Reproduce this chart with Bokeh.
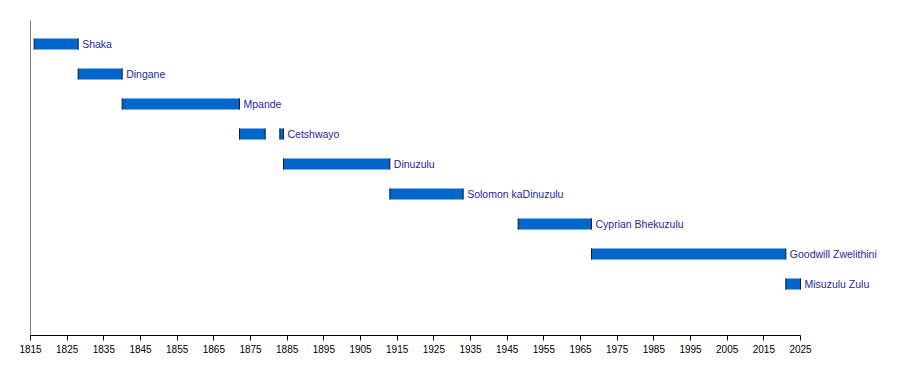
from bokeh.plotting import figure
from bokeh.models import Range1d, FixedTicker, Span, ColumnDataSource, LabelSet
from bokeh.core.properties import value
from bokeh.embed import file_html
from bokeh.resources import INLINE

# --- data ---
names = ["Shaka", "Dingane", "Mpande", "Cetshwayo", "Dinuzulu",
         "Solomon kaDinuzulu", "Cyprian Bhekuzulu", "Goodwill Zwelithini", "Misuzulu Zulu"]
period_king = [0, 1, 2, 3, 3, 4, 5, 6, 7, 8]
period_start = [1816, 1828, 1840, 1872, 1883, 1884, 1913, 1948, 1968, 2021]
period_end = [1828, 1840, 1872, 1879, 1884, 1913, 1933, 1968, 2021, 2025]
tick_years = list(range(1815, 2026, 10))

BAR_H = 0.37
x_min, x_max = 1815, 2025

# label position: end of last period of each king
label_x = [max(e for k, e in zip(period_king, period_end) if k == i) for i in range(len(names))]
label_y = list(range(len(names)))

px_per_year = 770 / (x_max - x_min)
frame_w = 860
p = figure(frame_width=frame_w, frame_height=315,
           x_range=Range1d(x_min, x_min + frame_w / px_per_year),
           y_range=Range1d((315 - 23.5) / 30, -23.5 / 30),
           output_backend="svg", toolbar_location=None,
           min_border_left=30, min_border_top=20, min_border_right=2, min_border_bottom=5)

p.outline_line_color = None
p.xgrid.visible = False
p.ygrid.visible = False
p.yaxis.visible = False
p.background_fill_color = "white"
p.border_fill_color = "white"

bars = ColumnDataSource(dict(left=period_start, right=period_end, y=period_king,
                             y0=[k - BAR_H / 2 for k in period_king],
                             y1=[k + BAR_H / 2 for k in period_king]))
p.hbar(y="y", left="left", right="right", height=BAR_H, source=bars,
       fill_color="#0066CC", line_color=None)
p.segment(x0="left", x1="left", y0="y0", y1="y1", source=bars, line_color="#0a1433", line_width=1)
p.segment(x0="right", x1="right", y0="y0", y1="y1", source=bars, line_color="#0a1433", line_width=1)

labels = ColumnDataSource(dict(x=label_x, y=label_y, text=names))
p.add_layout(LabelSet(x="x", y="y", text="text", source=labels, x_offset=4,
                      text_baseline="middle", text_align="left",
                      text_font=value("Liberation Sans"), text_font_size=value("10.5px"),
                      text_color=value("#1f1f9e")))

p.add_layout(Span(location=x_min, dimension="height", line_color="black", line_width=1))

ax = p.xaxis[0]
ax.bounds = (x_min, x_max)
ax.ticker = FixedTicker(ticks=tick_years)
ax.minor_tick_line_color = None
ax.major_tick_in = 0
ax.major_tick_out = 5
ax.axis_line_color = "black"
ax.major_tick_line_color = "black"
ax.major_label_text_font = "Liberation Sans"
ax.major_label_text_font_size = "10px"
ax.major_label_text_color = "black"
ax.major_label_standoff = 4

open("out.html", "w").write(file_html(p, INLINE))
